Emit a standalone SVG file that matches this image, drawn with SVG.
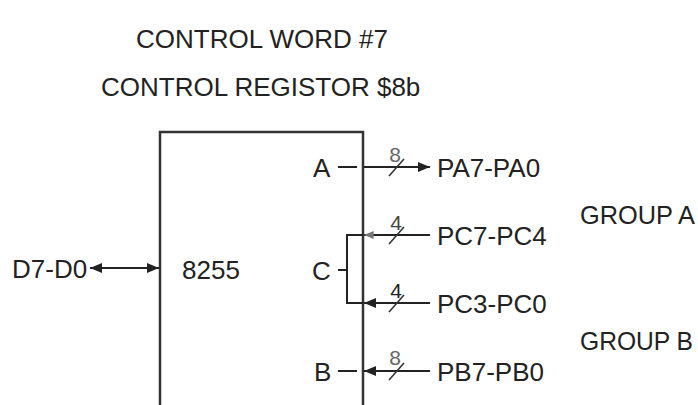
<svg xmlns="http://www.w3.org/2000/svg" width="698" height="405" viewBox="0 0 698 405">
<style>
text{font-family:"Liberation Sans",Arial,sans-serif;font-size:26px;fill:#222}
.bw{font-size:21px;fill:#444;text-anchor:middle}
.ln{stroke:#222;stroke-width:2;fill:none}
.sl{stroke:#333;stroke-width:1.6}
.box{stroke:#333;stroke-width:2.5;fill:#fff}
</style>
<defs>
<marker id="ah" viewBox="0 0 12 10" refX="12" refY="5" markerWidth="12" markerHeight="10" markerUnits="userSpaceOnUse" orient="auto-start-reverse">
<path d="M0,0 L12,5 L0,10 z" fill="#222"/>
</marker>
<marker id="ahf" viewBox="0 0 12 10" refX="12" refY="5" markerWidth="10" markerHeight="8" markerUnits="userSpaceOnUse" orient="auto-start-reverse">
<path d="M0,0 L12,5 L0,10 z" fill="#777"/>
</marker>
</defs>
<g id="title">
<text x="136" y="48">CONTROL WORD #7</text>
<text x="101" y="96">CONTROL REGISTOR $8b</text>
</g>
<g id="chip8255">
<path class="box" d="M160,406 V132 H363 V406"/>
<text x="182" y="279">8255</text>
<text x="313" y="177">A</text>
<text x="312" y="280">C</text>
<text x="314" y="381">B</text>
</g>
<g id="d7d0"><text x="12" y="278">D7-D0</text></g>
<g id="pa"><text x="437" y="177">PA7-PA0</text></g>
<g id="pc74"><text x="437" y="245">PC7-PC4</text></g>
<g id="pc30"><text x="437" y="313">PC3-PC0</text></g>
<g id="pb"><text x="437" y="381">PB7-PB0</text></g>
<g id="groupA"><text x="580" y="224" textLength="115" lengthAdjust="spacingAndGlyphs">GROUP A</text></g>
<g id="groupB"><text x="580" y="350" textLength="113" lengthAdjust="spacingAndGlyphs">GROUP B</text></g>
<g id="connectors">
<line class="ln" x1="90" y1="268" x2="159" y2="268" marker-start="url(#ah)" marker-end="url(#ah)"/>
<line class="ln" x1="338" y1="167" x2="357" y2="167"/>
<line class="ln" x1="364" y1="167" x2="430" y2="167" marker-end="url(#ah)"/>
<path class="ln" d="M363,235 H347 V303 H363"/>
<line class="ln" x1="338" y1="270" x2="347" y2="270"/>
<line class="ln" x1="430" y1="235" x2="364" y2="235" marker-end="url(#ahf)"/>
<line class="ln" x1="430" y1="303" x2="364" y2="303" marker-end="url(#ah)"/>
<line class="ln" x1="338" y1="371" x2="357" y2="371"/>
<line class="ln" x1="430" y1="371" x2="364" y2="371" marker-end="url(#ah)"/>
<line class="sl" x1="389" y1="176" x2="404" y2="159"/>
<line class="sl" x1="389" y1="244" x2="404" y2="227"/>
<line class="sl" x1="389" y1="312" x2="404" y2="295"/>
<line class="sl" x1="389" y1="380" x2="404" y2="363"/>
<text class="bw" x="395" y="162" fill="#666" style="fill:#666">8</text>
<text class="bw" x="396" y="230">4</text>
<text class="bw" x="396" y="298" style="fill:#222">4</text>
<text class="bw" x="395" y="365" style="fill:#666">8</text>
</g>
</svg>
